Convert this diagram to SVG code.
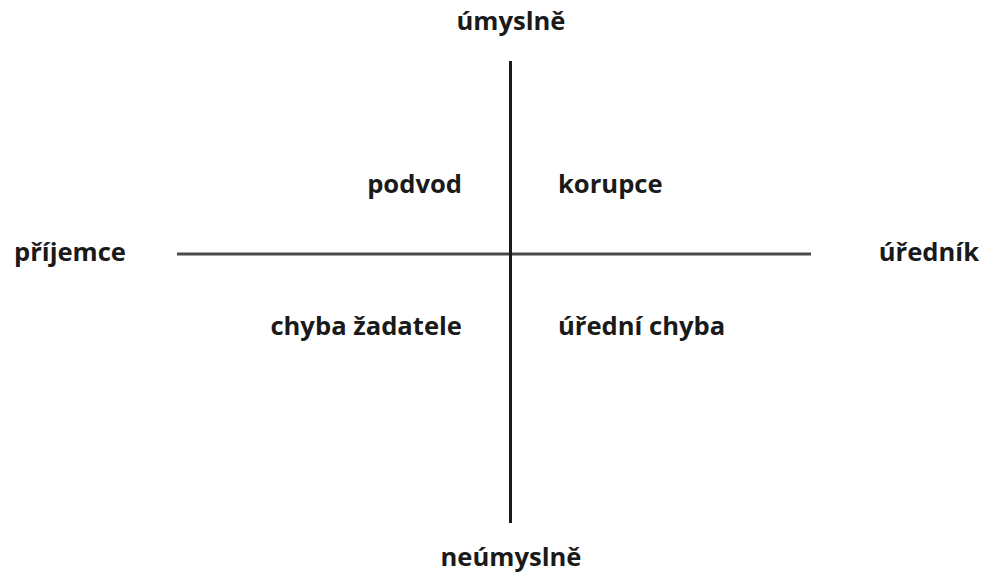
<svg xmlns="http://www.w3.org/2000/svg" width="985" height="578" viewBox="0 0 985 578">
<style>
text{font-family:"Open Sans","Liberation Sans",sans-serif;font-weight:bold;font-size:25.6px;fill:#1a1a1a}
.ax{stroke-width:3;fill:none}
</style>
<rect width="985" height="578" fill="#fff"/>
<g id="connectors">
<line class="ax" x1="177" y1="254" x2="811" y2="254" stroke="#4a4a4a"/>
<line class="ax" x1="510.5" y1="61" x2="510.5" y2="523" stroke="#1a1a1a"/>
</g>
<g id="top"><text x="511" y="30" text-anchor="middle">úmyslně</text></g>
<g id="bottom"><text x="511" y="566" text-anchor="middle">neúmyslně</text></g>
<g id="left"><text x="14" y="261">příjemce</text></g>
<g id="right"><text x="979" y="261" text-anchor="end">úředník</text></g>
<g id="q1"><text x="462" y="193" text-anchor="end">podvod</text></g>
<g id="q2"><text x="558" y="193">korupce</text></g>
<g id="q3"><text x="462" y="335" text-anchor="end">chyba žadatele</text></g>
<g id="q4"><text x="558" y="335">úřední chyba</text></g>
</svg>
